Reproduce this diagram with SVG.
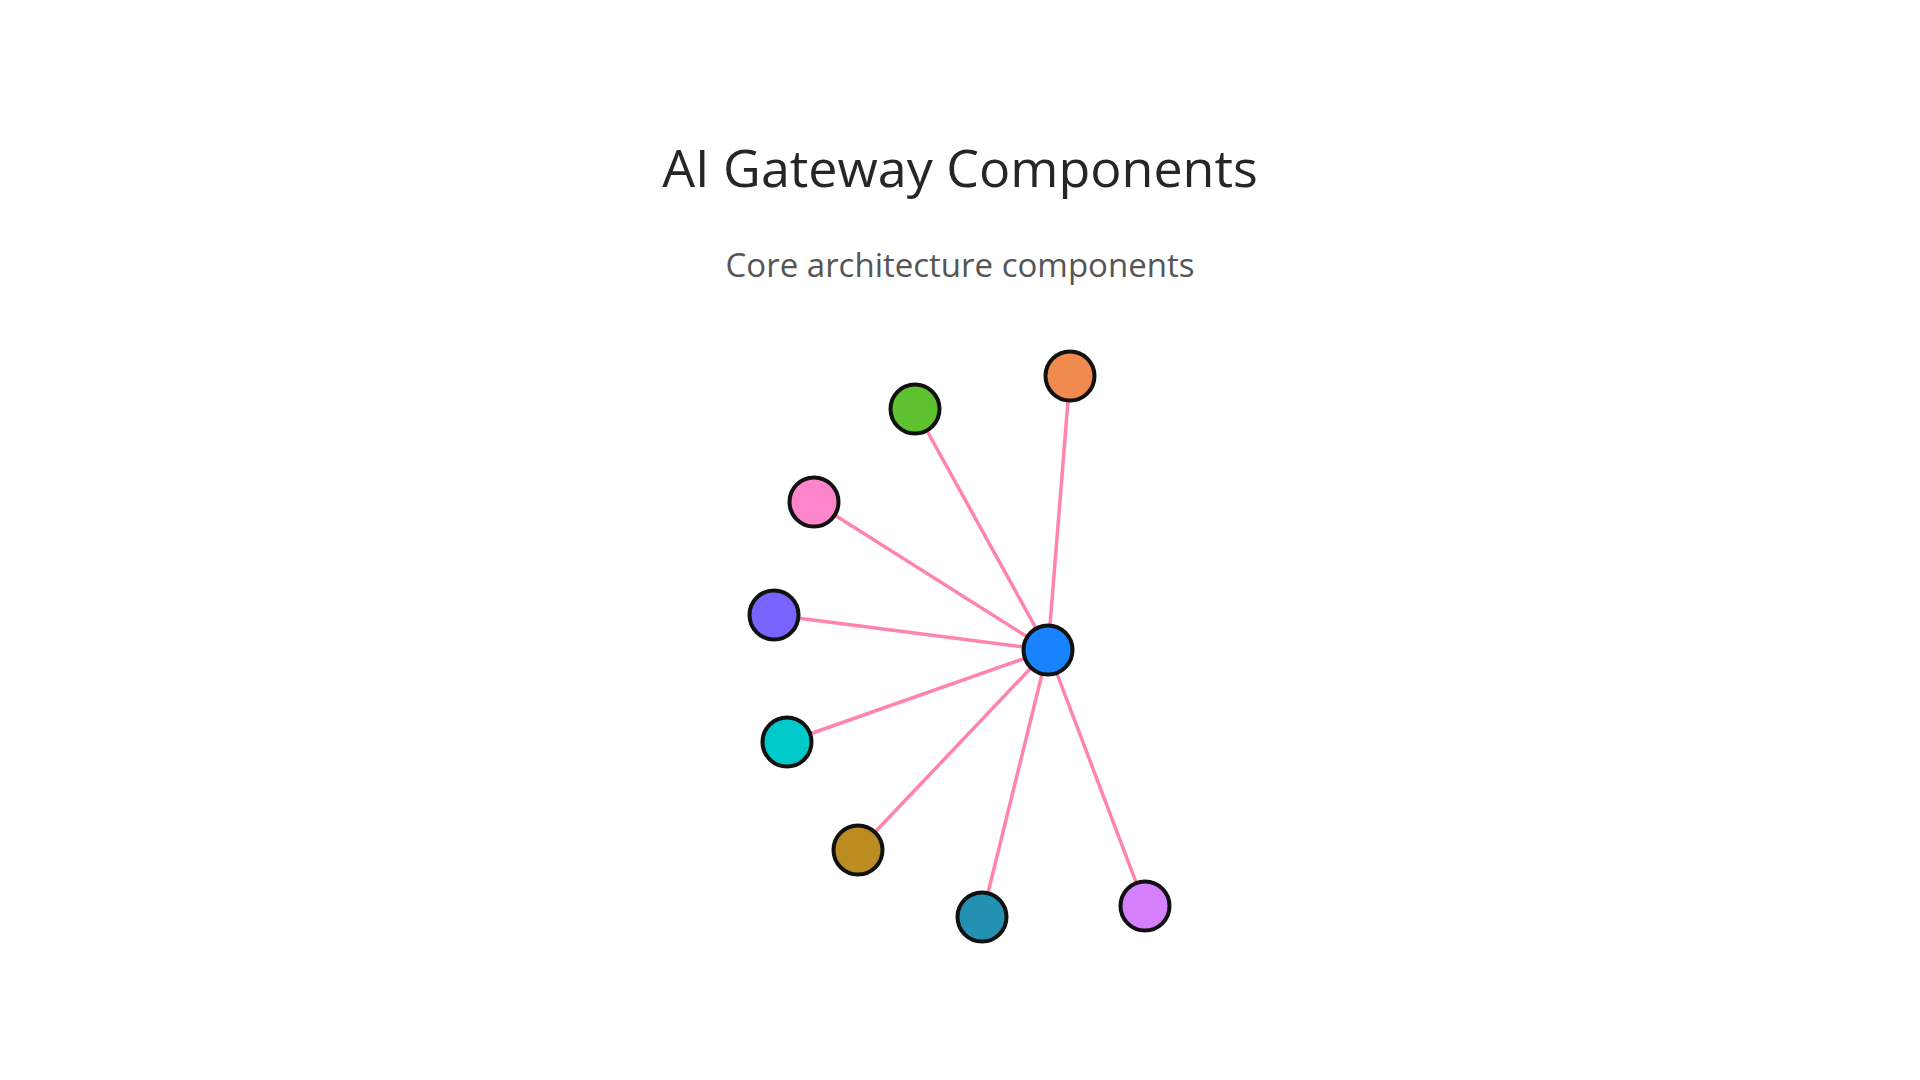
<svg xmlns="http://www.w3.org/2000/svg" width="1920" height="1080" viewBox="0 0 1920 1080">
<style>
.t{font-family:"Open Sans","Noto Sans",sans-serif;text-anchor:middle}
.n{stroke:#111;stroke-width:4}
.e{stroke:#ff85a8;stroke-width:3.5;fill:none}
</style>
<rect width="1920" height="1080" fill="#fff"/>
<text class="t" x="960" y="187" font-size="52" fill="#262626">AI Gateway Components</text>
<text class="t" x="960" y="277" font-size="33" fill="#555">Core architecture components</text>
<g id="connectors">
<line class="e" x1="1048" y1="650" x2="1070" y2="376"/>
<line class="e" x1="1048" y1="650" x2="915" y2="409"/>
<line class="e" x1="1048" y1="650" x2="814" y2="502"/>
<line class="e" x1="1048" y1="650" x2="774" y2="615"/>
<line class="e" x1="1048" y1="650" x2="787" y2="742"/>
<line class="e" x1="1048" y1="650" x2="858" y2="850"/>
<line class="e" x1="1048" y1="650" x2="982" y2="917"/>
<line class="e" x1="1048" y1="650" x2="1145" y2="906"/>
</g>
<g id="hub"><circle class="n" cx="1048" cy="650" r="24.5" fill="#1783ff"/></g>
<g id="n1"><circle class="n" cx="1070" cy="376" r="24.5" fill="#f08a4f"/></g>
<g id="n2"><circle class="n" cx="915" cy="409" r="24.5" fill="#5ec12f"/></g>
<g id="n3"><circle class="n" cx="814" cy="502" r="24.5" fill="#ff85ca"/></g>
<g id="n4"><circle class="n" cx="774" cy="615" r="24.5" fill="#7863ff"/></g>
<g id="n5"><circle class="n" cx="787" cy="742" r="24.5" fill="#00c9c9"/></g>
<g id="n6"><circle class="n" cx="858" cy="850" r="24.5" fill="#bb8c22"/></g>
<g id="n7"><circle class="n" cx="982" cy="917" r="24.5" fill="#2491b3"/></g>
<g id="n8"><circle class="n" cx="1145" cy="906" r="24.5" fill="#d580ff"/></g>
</svg>
